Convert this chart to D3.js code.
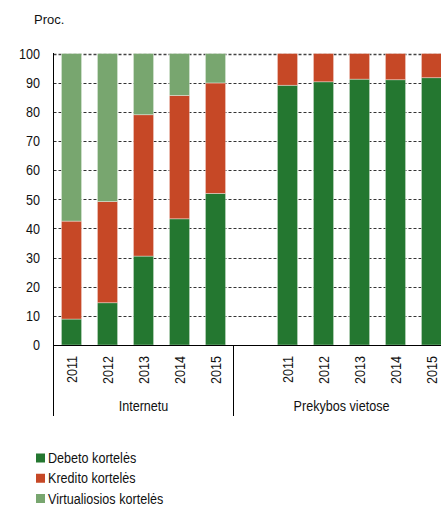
<!DOCTYPE html>
<html>
<head>
<meta charset="utf-8">
<script src="https://cdn.jsdelivr.net/npm/d3@7"></script>
<style>
  html, body { margin: 0; padding: 0; background: #fff; }
  svg { display: block; font-family: "Liberation Sans", Arial, sans-serif; }
</style>
</head>
<body>
<svg id="chart" width="441" height="506"></svg>
<script>
// Card payment structure by channel, percent
const years = ["2011", "2012", "2013", "2014", "2015"];
const groups = ["Internetu", "Prekybos vietose"];
const seriesNames = ["Debeto kortelės", "Kredito kortelės", "Virtualiosios kortelės"];
const seriesColors = ["#247730", "#c64826", "#78a66f"];

const debitInternet = [8.9, 14.5, 30.5, 43.3, 52.0];
const creditInternet = [33.6, 34.7, 48.5, 42.3, 37.9];
const virtualInternet = [57.5, 50.8, 21.0, 14.4, 10.1];

const debitStore = [89.1, 90.3, 91.2, 91.0, 91.7];
const creditStore = [10.9, 9.7, 8.8, 9.0, 8.3];
const virtualStore = [0, 0, 0, 0, 0];

const yTicks = [0, 10, 20, 30, 40, 50, 60, 70, 80, 90, 100];

// Rows: one per bar; a blank slot separates the two channels
const rows = [];
years.forEach((yr, i) => rows.push({ key: "i" + yr, year: yr, group: 0,
  values: [debitInternet[i], creditInternet[i], virtualInternet[i]] }));
rows.push({ key: "gap", year: null, group: 1, values: [0, 0, 0] });
years.forEach((yr, i) => rows.push({ key: "s" + yr, year: yr, group: 1,
  values: [debitStore[i], creditStore[i], virtualStore[i]] }));

const svg = d3.select("#chart");
const plotLeft = 53.5, plotTop = 53.5, plotBottom = 345;
const slot = 36;
const plotRight = 441;
const fontSize = 15, narrow = 0.84;

const x = d3.scaleBand()
  .domain(rows.map(r => r.key))
  .range([plotLeft, plotLeft + slot * rows.length])
  .paddingInner(0.44).paddingOuter(0.22);

const y = d3.scaleLinear().domain([0, 100]).range([plotBottom, plotTop]);

// Gridlines
svg.append("g").selectAll("line")
  .data(yTicks.filter(t => t > 0))
  .join("line")
  .attr("x1", plotLeft).attr("x2", plotRight)
  .attr("y1", d => Math.round(y(d)) + 0.5).attr("y2", d => Math.round(y(d)) + 0.5)
  .attr("stroke", d => d === 100 ? "#444" : "#333")
  .attr("stroke-width", d => d === 100 ? 1.6 : 1)
  .attr("stroke-dasharray", "3,2");

// Stacked bars
const keys = [0, 1, 2];
const stack = d3.stack().keys(keys).value((d, k) => d.values[k]);
const stacked = stack(rows.filter(r => r.year));

svg.append("g").selectAll("g")
  .data(stacked)
  .join("g")
  .attr("fill", (d, i) => seriesColors[i])
  .selectAll("rect")
  .data(d => d.filter(p => p[1] - p[0] > 0))
  .join("rect")
  .attr("x", d => x(d.data.key))
  .attr("width", x.bandwidth())
  .attr("y", d => y(d[1]))
  .attr("height", d => y(d[0]) - y(d[1]))
  .attr("stroke", "rgba(255,255,255,0.45)")
  .attr("stroke-width", 0.8);

// Axis lines
svg.append("line")
  .attr("x1", plotLeft).attr("x2", plotLeft).attr("y1", plotTop - 0.5).attr("y2", plotBottom)
  .attr("stroke", "#000").attr("stroke-width", 1);
svg.append("line")
  .attr("x1", plotLeft).attr("x2", plotRight).attr("y1", plotBottom + 0.5).attr("y2", plotBottom + 0.5)
  .attr("stroke", "#000").attr("stroke-width", 1);

// Y tick labels
svg.append("g").selectAll("text")
  .data(yTicks)
  .join("text")
  .attr("transform", d => `translate(40,${y(d)}) scale(${narrow},1)`)
  .attr("dy", "0.35em")
  .attr("text-anchor", "end")
  .attr("font-size", fontSize)
  .attr("fill", "#111")
  .text(d => d);

// Unit label
svg.append("text")
  .attr("x", 34).attr("y", 24)
  .attr("font-size", 13).attr("fill", "#111")
  .text("Proc.");

// Year labels (rotated)
svg.append("g").selectAll("text")
  .data(rows.filter(r => r.year))
  .join("text")
  .attr("transform", d => `translate(${x(d.key) + x.bandwidth() / 2 + 5.5},356) rotate(-90) scale(${narrow},1)`)
  .attr("text-anchor", "end")
  .attr("font-size", fontSize)
  .attr("fill", "#111")
  .text(d => d.year);

// Group separators and labels
const sepX = [plotLeft, plotLeft + slot * 5];
svg.append("g").selectAll("line")
  .data(sepX)
  .join("line")
  .attr("x1", d => d).attr("x2", d => d)
  .attr("y1", plotBottom).attr("y2", 416)
  .attr("stroke", "#000").attr("stroke-width", 1);
sepX.forEach((sx, gi) => {
  const end = gi === 0 ? plotLeft + slot * 5 : plotLeft + slot * rows.length;
  svg.append("text")
    .attr("transform", `translate(${(sx + end) / 2},410.5) scale(${narrow},1)`)
    .attr("text-anchor", "middle")
    .attr("font-size", fontSize)
    .attr("fill", "#111")
    .text(groups[gi]);
});

// Legend
const legend = svg.append("g").selectAll("g")
  .data(seriesNames)
  .join("g")
  .attr("transform", (d, i) => `translate(36,${453.5 + i * 20.25})`);
legend.append("rect")
  .attr("width", 9).attr("height", 9)
  .attr("fill", (d, i) => seriesColors[i]);
legend.append("text")
  .attr("transform", `translate(12,9.5) scale(${narrow},1)`)
  .attr("font-size", fontSize).attr("fill", "#111")
  .text(d => d);
</script>
</body>
</html>
